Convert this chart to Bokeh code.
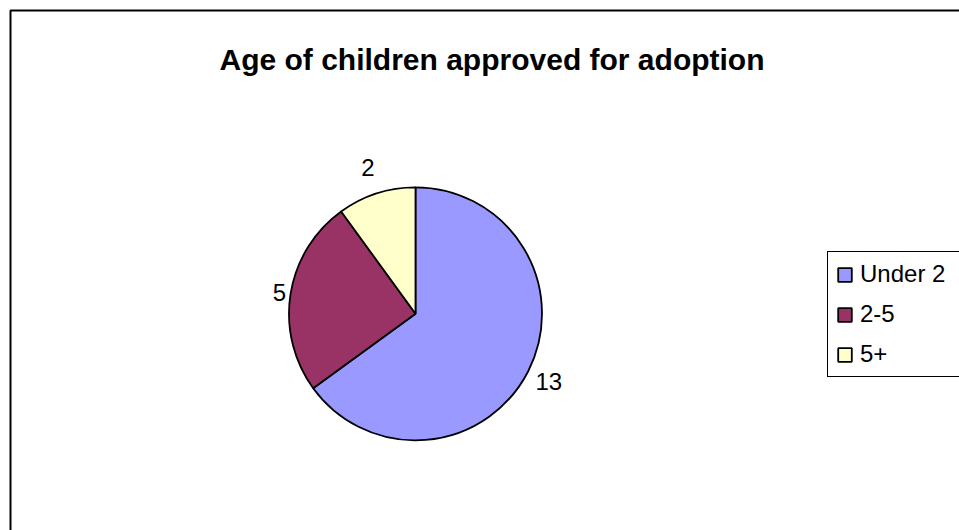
import math
from bokeh.plotting import figure
from bokeh.models import ColumnDataSource, Range1d, Legend, LegendItem, BoxAnnotation
from bokeh.core.properties import value
from bokeh.embed import file_html
from bokeh.resources import INLINE

# ---- data ----
title_text = "Age of children approved for adoption"
categories = ["Under 2", "2-5", "5+"]
counts = [13, 5, 2]
colors = ["#9999FF", "#993366", "#FFFFCC"]

# ---- layout (pixel-like data space) ----
W, H = 959, 530
CX, CY, R = 415, 216.7, 126.5
FONT = "Liberation Sans"

p = figure(width=W, height=H, output_backend="svg", toolbar_location=None,
           x_range=Range1d(0, W), y_range=Range1d(0, H),
           x_axis_type=None, y_axis_type=None, min_border=0,
           outline_line_color=None, background_fill_color="white",
           border_fill_color="white")
p.grid.visible = False

# chart border (right and bottom edges lie outside the visible page)
p.add_layout(BoxAnnotation(left=10, right=W + 30, bottom=-30, top=H - 10,
                           fill_alpha=0, line_color="black", line_alpha=1.0,
                           line_width=2, level="underlay"))

total = sum(counts)
starts, ends = [], []
a = math.pi / 2
for c in counts:
    starts.append(a)
    a -= 2 * math.pi * c / total
    ends.append(a)

src = ColumnDataSource(dict(cat=categories, val=counts, color=colors,
                            start=starts, end=ends))
wr = p.wedge(x=CX, y=CY, radius=R, start_angle="start", end_angle="end",
             direction="clock", fill_color="color", line_color="black",
             line_width=1.8, source=src)

# data labels outside the pie
lx, ly, lt = [], [], []
for s, e, v in zip(starts, ends, counts):
    m = (s + e) / 2
    ux, uy = math.cos(m), math.sin(m)
    lab = str(v)
    d = R + 2 + abs(ux) * 5.5 * len(lab) + abs(uy) * 25
    lx.append(CX + d * ux)
    ly.append(CY + d * uy)
    lt.append(lab)
p.text(x=lx, y=ly, text=lt, text_align="center", text_baseline="middle",
       text_font=value(FONT), text_font_size="24px", text_color="black")

# title
p.text(x=[491.5], y=[H - 59], text=[title_text], text_align="center",
       text_baseline="alphabetic", text_font=value(FONT),
       text_font_size="30px", text_font_style="bold", text_color="black")

legend = Legend(items=[LegendItem(label=categories[i], renderers=[wr], index=i)
                       for i in range(len(categories))],
                location=(827, 152.7), orientation="vertical",
                label_text_font=FONT, label_text_font_size="24px",
                label_text_color="black", label_standoff=7,
                glyph_width=17, glyph_height=17, label_height=28,
                label_width=110, spacing=12, padding=8, margin=0,
                border_line_color="black", border_line_alpha=1.0,
                border_line_width=1,
                background_fill_color="white", background_fill_alpha=1.0)
p.add_layout(legend)

open("out.html", "w").write(file_html(p, INLINE))
